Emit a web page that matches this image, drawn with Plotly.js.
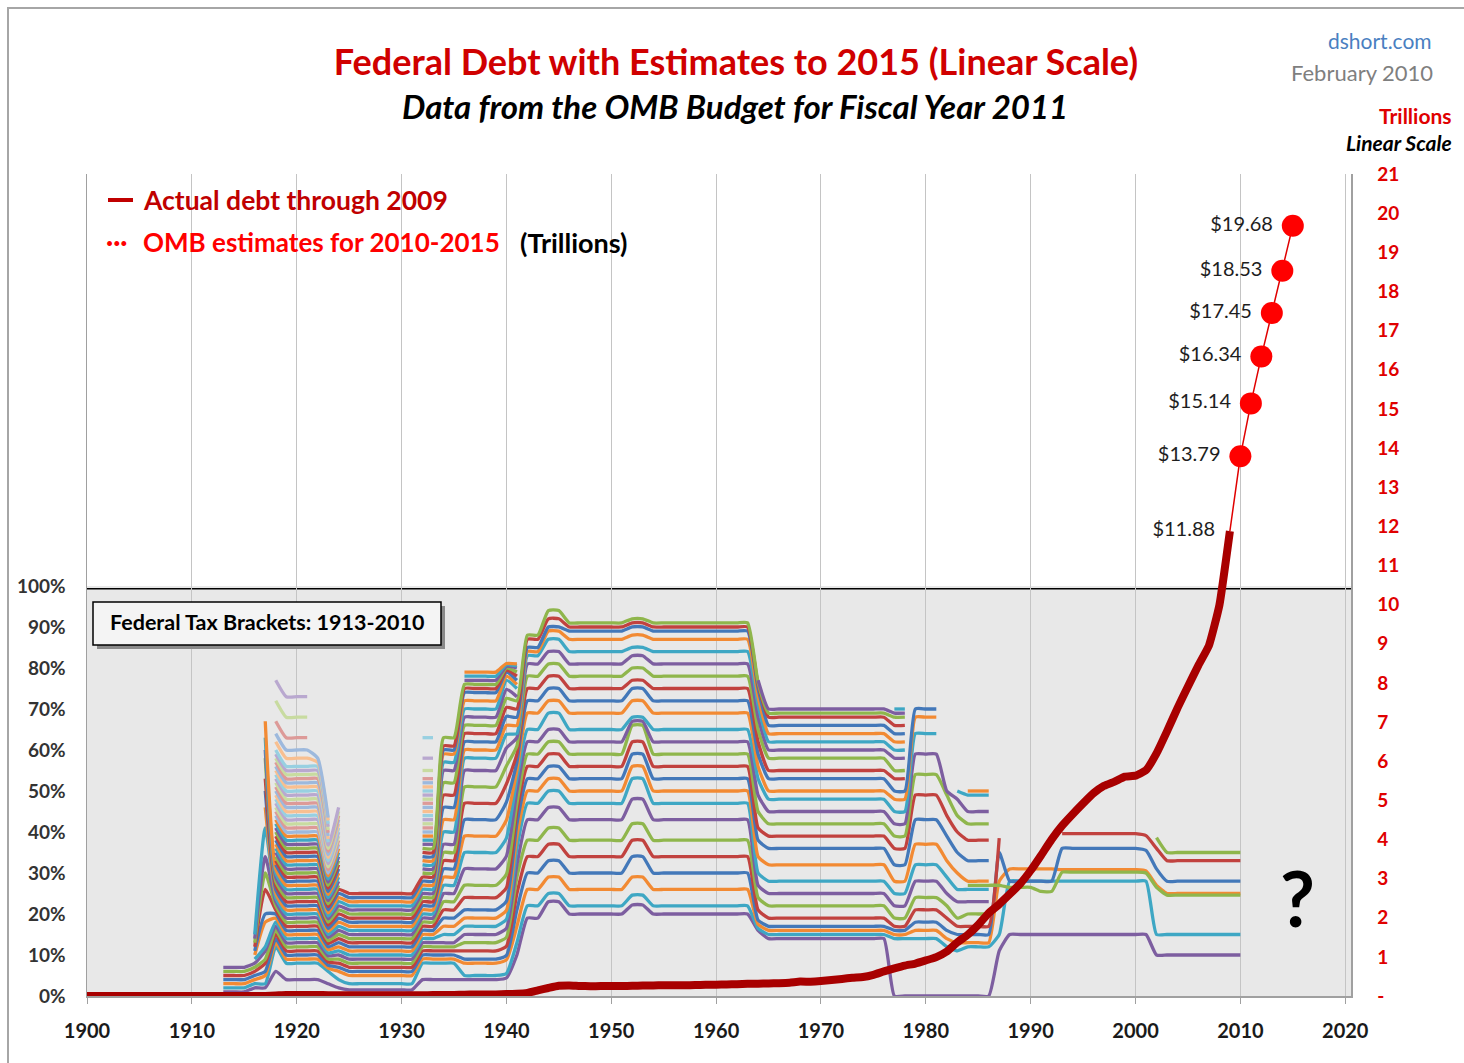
<!DOCTYPE html>
<html>
<head>
<meta charset="utf-8">
<script src="https://cdn.plot.ly/plotly-3.0.1.min.js"></script>
<style>
  html, body { margin: 0; padding: 0; background: #ffffff; }
  #chart { width: 1464px; height: 1063px; }
</style>
</head>
<body>
<div id="chart"></div>
<script>
// ---------------- DATA ----------------
// Gross federal debt, trillions of dollars, 1900-2009 (actual)
const debtStartYear = 1900;
const debtTrillions = [
  0.00126, 0.00122, 0.00118, 0.00116, 0.00114, 0.00113, 0.00114, 0.00115, 0.00118, 0.00115,
  0.00115, 0.00115, 0.00119, 0.00119, 0.00119, 0.00119, 0.00123, 0.00298, 0.01246, 0.02548,
  0.02430, 0.02398, 0.02296, 0.02235, 0.02125, 0.02052, 0.01964, 0.01851, 0.01760, 0.01693,
  0.01619, 0.01680, 0.01949, 0.02254, 0.02705, 0.02870, 0.03378, 0.03642, 0.03716, 0.04044,
  0.0507, 0.0575, 0.0792, 0.1426, 0.2041, 0.2601, 0.2710, 0.2571, 0.2520, 0.2526,
  0.2569, 0.2553, 0.2591, 0.2660, 0.2708, 0.2744, 0.2727, 0.2723, 0.2797, 0.2875,
  0.2905, 0.2926, 0.3029, 0.3103, 0.3161, 0.3223, 0.3285, 0.3404, 0.3687, 0.3658,
  0.3809, 0.4082, 0.4359, 0.4663, 0.4839, 0.5419, 0.6290, 0.7064, 0.7766, 0.8295,
  0.9090, 0.9948, 1.1373, 1.3717, 1.5646, 1.8174, 2.1205, 2.3460, 2.6011, 2.8678,
  3.2063, 3.5982, 4.0018, 4.3510, 4.6433, 4.9206, 5.1815, 5.3692, 5.4782, 5.6055,
  5.6287, 5.7699, 6.1984, 6.7600, 7.3547, 7.9053, 8.4514, 8.9507, 9.9861, 11.8759
];

// OMB estimates (2009 actual end point, then 2010-2015 estimates), trillions
const estimateYears = [2009, 2010, 2011, 2012, 2013, 2014, 2015];
const estimateTrillions = [11.88, 13.79, 15.14, 16.34, 17.45, 18.53, 19.68];

// Federal income tax bracket rates (%), one list per rate-schedule era
const r1913 = [1, 2, 3, 4, 5, 6, 7];
const r1916 = [2, 3, 4, 5, 6, 7, 8, 9, 10, 11, 12, 13, 14, 15];
const r1917 = [2, 3, 5, 6, 8, 9, 11, 12, 18, 20, 26, 30, 34, 41, 46, 50, 53, 58, 60, 63, 67];
const r1918 = [6, 12, 13, 14, 15, 16, 17, 18, 19, 20, 21, 22, 23, 24, 25, 26, 27, 28, 29, 30,
  31, 32, 33, 34, 35, 36, 37, 38, 39, 40, 41, 42, 43, 44, 45, 46, 47, 48, 49, 50,
  51, 52, 53, 54, 55, 56, 57, 58, 59, 60, 62, 64, 67, 72, 77];
const r1919 = [4, 8, 9, 10, 11, 12, 13, 14, 15, 16, 17, 18, 19, 20, 21, 22, 23, 24, 25, 26,
  27, 28, 29, 30, 31, 32, 33, 34, 35, 36, 37, 38, 39, 40, 41, 42, 43, 44, 45, 46,
  47, 48, 49, 50, 51, 52, 53, 54, 55, 56, 58, 60, 63, 68, 73];
const r1922 = [4, 8, 9, 10, 11, 12, 13, 14, 15, 16, 17, 18, 19, 20, 21, 22, 23, 24, 25, 26,
  27, 28, 29, 30, 31, 32, 33, 34, 35, 36, 37, 38, 39, 40, 41, 42, 43, 44, 45, 46,
  47, 48, 49, 50, 51, 52, 53, 54, 55, 56, 57, 58];
const r1923 = [3, 6, 6.8, 7.5, 8.3, 9, 9.8, 10.5, 11.3, 12, 12.8, 13.5, 14.3, 15, 15.8, 16.5,
  17.3, 18, 18.8, 19.5, 20.3, 21, 21.8, 22.5, 23.3, 24, 24.8, 25.5, 26.3, 27, 27.8, 28.5,
  29.3, 30, 30.8, 31.5, 32.3, 33, 33.8, 34.5, 35.3, 36, 36.8, 37.5, 38.3, 39, 39.8, 40.5,
  41.3, 42, 42.8, 43.5];
const r1924 = [2, 4, 6, 7, 8, 9, 10, 11, 12, 13, 14, 15, 16, 17, 18, 19, 20, 21, 22, 23,
  24, 25, 26, 27, 28, 29, 30, 31, 32, 33, 34, 35, 36, 37, 38, 39, 40, 41, 42, 43, 44, 45, 46];
const r1925 = [1.5, 3, 5, 6, 7, 8, 9, 10, 11, 12, 13, 14, 15, 16, 17, 18, 19, 20, 21, 22, 23, 24, 25];
const r1932 = [4, 8, 9, 10, 11, 12, 13, 14, 15, 16, 17, 18, 19, 20, 21, 22, 23, 24, 25, 26,
  27, 28, 29, 30, 31, 32, 33, 34, 35, 36, 37, 38, 39, 40, 41, 42, 43, 44, 45, 46,
  47, 48, 49, 50, 51, 52, 53, 55, 58, 63];
const r1934 = [4, 8, 9, 10, 11, 12, 13, 15, 17, 19, 21, 23, 25, 27, 29, 31, 33, 35, 37, 40,
  43, 46, 49, 52, 55, 57, 59, 60, 61, 63];
const r1936 = [4, 5, 8, 9, 11, 13, 15, 17, 19, 21, 24, 27, 31, 35, 39, 43, 47, 51, 55, 58,
  60, 62, 64, 66, 68, 70, 72, 74, 75, 76, 77, 78, 79];
const r1940 = [4.4, 5.5, 8.8, 9.9, 12.1, 14.3, 16.5, 18.7, 20.9, 23.1, 26.4, 29.7, 34.1, 38.5,
  42.9, 47.3, 51.7, 56.1, 60.5, 63.8, 66, 68.2, 70.4, 72.6, 74.8, 77, 78, 79, 79.5, 80, 80.4, 80.8, 81.1];
const r1941 = [10, 13, 17, 21, 25, 29, 32, 36, 39, 42, 45, 47, 50, 53, 55, 57, 59, 61, 63, 64,
  66, 68, 70, 72, 73, 75, 76, 77, 78, 79, 80, 80.5, 81];
const r1942 = [19, 22, 26, 30, 34, 38, 43, 47, 50, 53, 56, 59, 62, 65, 69, 72, 75, 78, 81, 83, 84, 85, 87, 88];
const r1944 = [23, 25, 29, 33, 37, 41, 46, 50, 53, 56, 59, 62, 65, 69, 72, 75, 78, 81, 84, 87, 89, 90, 92, 94];
const r1946 = [20, 22, 26, 30, 34, 38, 43, 47, 50, 53, 56, 59, 62, 65, 69, 72, 75, 78, 81, 84, 87, 89, 90, 91];
const r1952 = [22.2, 24.6, 29, 34, 38, 42, 48, 53, 56, 59, 62, 66, 67, 68, 72, 75, 77, 80, 83, 85, 88, 90, 91, 92];
const r1954 = [20, 22, 26, 30, 34, 38, 43, 47, 50, 53, 56, 59, 62, 65, 69, 72, 75, 78, 81, 84, 87, 89, 90, 91];
const r1964 = [16, 16.5, 17.5, 18.5, 21, 24, 27, 30, 34, 38, 41, 45, 49, 53, 56, 59, 62, 65, 68, 71, 73, 75, 76, 76.5, 77];
const r1965 = [14, 15, 16, 17, 19, 22, 25, 28, 32, 36, 39, 42, 45, 48, 50, 53, 55, 58, 60, 62, 64, 66, 68, 69, 70];
const r1977 = [0, 14, 15, 16, 17, 19, 22, 25, 28, 32, 36, 39, 42, 45, 48, 50, 53, 55, 58, 60, 62, 64, 66, 68, 69, 70];
const r1979 = [0, 14, 16, 18, 21, 24, 28, 32, 37, 43, 49, 54, 59, 64, 68, 70];
const r1982 = [0, 12, 14, 16, 19, 22, 25, 29, 33, 39, 44, 49, 50];
const r1983 = [0, 11, 13, 15, 17, 19, 23, 26, 30, 35, 40, 44, 48, 50];
const r1984 = [0, 12, 13, 15, 17, 20, 23, 26, 28, 33, 38, 42, 45, 49, 50, null, null, 27];
const r1987 = [11, 15, 28, 35, 38.5, null, null, null, null, null, null, null, null, null, null, null, null, 27];
const r1988 = [15, 28, 31, 28, null, null, null, null, null, null, null, null, null, null, null, null, null, 26.5];
const r1991 = [15, 28, 31, 28, null, null, null, null, null, null, null, null, null, null, null, null, null, 25.5];
const r1993 = [15, 28, 30.8, 36, 39.6, null, null, null, null, null, null, null, null, null, null, null, null, 30.2];
const r2001 = [15, 28, 30.5, 35.5, 39.1, null, null, null, null, null, null, null, null, null, null, null, null, 30];
const r2002 = [10, 15, 27, 31, 36, null, null, null, null, null, null, 38.6, null, null, null, null, null, 26.5];
const r2003 = [10, 15, 25, 28, 33, null, null, null, null, null, null, 35, null, null, null, null, null, 24.6];

const eraStartYears = [1913, 1916, 1917, 1918, 1919, 1922, 1923, 1924, 1925, 1932, 1934, 1936,
  1940, 1941, 1942, 1944, 1946, 1952, 1954, 1964, 1965, 1977, 1979, 1982, 1983, 1984,
  1987, 1988, 1991, 1993, 2001, 2002, 2003];
const eraRates = [r1913, r1916, r1917, r1918, r1919, r1922, r1923, r1924, r1925, r1932, r1934, r1936,
  r1940, r1941, r1942, r1944, r1946, r1952, r1954, r1964, r1965, r1977, r1979, r1982, r1983, r1984,
  r1987, r1988, r1991, r1993, r2001, r2002, r2003];
const taxLastYear = 2010;

const pctTickLabels = ['0%', '10%', '20%', '30%', '40%', '50%', '60%', '70%', '80%', '90%', '100%'];
const trillionTickLabels = ['-', '1', '2', '3', '4', '5', '6', '7', '8', '9', '10',
  '11', '12', '13', '14', '15', '16', '17', '18', '19', '20', '21'];

// ---------------- STYLE ----------------
const baseColors = ['#7d5ea0', '#3ea7c4', '#f28a33', '#4378b9', '#c1423f', '#8fb64c'];
const lightColors = ['#b9a8cf', '#98d0e1', '#f8bf90', '#9db9dd', '#dd9a98', '#c8dba0'];
const FONT = 'Lato, "Open Sans", "Noto Sans", sans-serif';

// plot-area pixel frame used for paper placement of texts
const PL = 87, PR = 1351, PT = 174, PB = 996;
const px = v => (v - PL) / (PR - PL);
const py = v => (PB - v) / (PB - PT);

// ---------------- TRACES ----------------
const traces = [];

// tax bracket series
const taxYears = [];
for (let y = eraStartYears[0]; y <= taxLastYear; y++) taxYears.push(y);
function ratesFor(year) {
  let idx = 0;
  for (let i = 0; i < eraStartYears.length; i++) if (eraStartYears[i] <= year) idx = i;
  return eraRates[idx];
}
const maxBrackets = Math.max(...eraRates.map(a => a.length));
for (let b = 0; b < maxBrackets; b++) {
  const ys = taxYears.map(yr => {
    const r = ratesFor(yr);
    return (b < r.length && r[b] !== null && r[b] !== undefined) ? r[b] : null;
  });
  if (ys.every(v => v === null)) continue;
  traces.push({
    x: taxYears, y: ys, yaxis: 'y', type: 'scatter', mode: 'lines',
    line: { color: (b >= 33 ? lightColors : baseColors)[b % 6], width: 3.3, shape: 'spline', smoothing: 0.5 },
    connectgaps: false, hoverinfo: 'skip', showlegend: false
  });
}

// actual debt
const debtYears = debtTrillions.map((_, i) => debtStartYear + i);
traces.push({
  x: debtYears, y: debtTrillions, yaxis: 'y2', type: 'scatter', mode: 'lines',
  line: { color: '#a80000', width: 8, shape: 'spline', smoothing: 0.4 },
  hoverinfo: 'skip', showlegend: false
});

// OMB estimates
traces.push({
  x: estimateYears, y: estimateTrillions, yaxis: 'y2', type: 'scatter', mode: 'lines+markers+text',
  line: { color: '#e00000', width: 1.5 },
  marker: { size: 22, color: estimateYears.map((_, i) => i === 0 ? 'rgba(0,0,0,0)' : '#ff0000') },
  text: estimateTrillions.map((v, i) => '$' + v.toFixed(2) + (i === 0 ? '' : '\u00a0')),
  textposition: 'middle left',
  textfont: { family: FONT, size: 20, color: '#1e1e1e' },
  cliponaxis: false, hoverinfo: 'skip', showlegend: false
});

// ---------------- LAYOUT ----------------
const layout = {
  width: 1464, height: 1063,
  margin: { l: PL, r: 1464 - PR, t: PT, b: 1063 - PB, pad: 0 },
  paper_bgcolor: '#ffffff', plot_bgcolor: '#ffffff',
  showlegend: false,
  font: { family: FONT },
  title: {
    text: 'Federal Debt with Estimates to 2015 (Linear Scale)',
    font: { family: FONT, size: 36, color: '#d00000', weight: 'bold' },
    xref: 'container', yref: 'container', x: 736 / 1464, y: 1 - 62 / 1063,
    xanchor: 'center', yanchor: 'middle'
  },
  xaxis: {
    range: [1900, 2020.55], tick0: 1900, dtick: 10,
    showgrid: true, gridcolor: '#c4c4c4', gridwidth: 1,
    zeroline: false, showline: true, linecolor: '#a0a0a0', linewidth: 1.5,
    ticks: 'outside', ticklen: 6, tickcolor: '#a0a0a0',
    tickfont: { family: FONT, size: 20, color: '#1a1a1a', weight: 'bold' },
    ticklabelstandoff: 10
  },
  yaxis: {
    range: [0, 200.48], side: 'left',
    tickvals: pctTickLabels.map((_, i) => i * 10), ticktext: pctTickLabels,
    showgrid: false, zeroline: false, showline: true, linecolor: '#a0a0a0', linewidth: 1.5,
    ticks: '', ticklabelstandoff: 16,
    tickfont: { family: FONT, size: 19, color: '#333333', weight: 'bold' }
  },
  yaxis2: {
    range: [0, 21], side: 'right', overlaying: 'y', anchor: 'x',
    tickvals: trillionTickLabels.map((_, i) => i), ticktext: trillionTickLabels,
    showgrid: false, zeroline: false, showline: true, linecolor: '#a0a0a0', linewidth: 1.5,
    ticks: '', ticklabelstandoff: 21,
    tickfont: { family: FONT, size: 19, color: '#e00000', weight: 'bold' }
  },
  shapes: [
    // gray tax-bracket band 0-100%
    { type: 'rect', xref: 'paper', yref: 'y', x0: 0, x1: 1, y0: 0, y1: 100,
      fillcolor: '#e8e8e8', line: { width: 0 }, layer: 'below' },
    { type: 'line', xref: 'paper', yref: 'y', x0: 0, x1: 1, y0: 99.3, y1: 99.3,
      line: { color: '#000000', width: 1.5 }, layer: 'below' },
    // box for the tax bracket label (shadow + box)
    { type: 'rect', xref: 'paper', yref: 'paper', x0: px(97), x1: px(445), y0: py(649), y1: py(606),
      fillcolor: '#8a8a8a', line: { width: 0 } },
    { type: 'rect', xref: 'paper', yref: 'paper', x0: px(93), x1: px(441), y0: py(645), y1: py(602),
      fillcolor: '#f4f4f4', line: { color: '#000000', width: 1.5 } },
    // legend dash for actual debt
    { type: 'line', xref: 'paper', yref: 'paper', x0: px(108), x1: px(133), y0: py(200), y1: py(200),
      line: { color: '#c00000', width: 4 } },
    // outer frame
    { type: 'rect', xref: 'paper', yref: 'paper', x0: px(8), x1: px(1480), y0: py(1080), y1: py(8),
      line: { color: '#a6a6a6', width: 2 }, fillcolor: 'rgba(0,0,0,0)' }
  ],
  annotations: [
    { text: '<b><i>Data from the OMB Budget for Fiscal Year 2011</i></b>', xref: 'paper', yref: 'paper',
      x: px(735), y: py(106), xanchor: 'center', yanchor: 'middle', showarrow: false,
      font: { family: FONT, size: 33, color: '#000000' } },
    { text: 'dshort.com', xref: 'paper', yref: 'paper', x: px(1434), y: py(41),
      xanchor: 'right', yanchor: 'middle', showarrow: false,
      font: { family: FONT, size: 21, color: '#4a7fc1' } },
    { text: 'February 2010', xref: 'paper', yref: 'paper', x: px(1435), y: py(72),
      xanchor: 'right', yanchor: 'middle', showarrow: false,
      font: { family: FONT, size: 22, color: '#7f7f7f' } },
    { text: '<b>Trillions</b>', xref: 'paper', yref: 'paper', x: px(1454), y: py(116),
      xanchor: 'right', yanchor: 'middle', showarrow: false,
      font: { family: FONT, size: 21, color: '#e00000' } },
    { text: '<b><i>Linear Scale</i></b>', xref: 'paper', yref: 'paper', x: px(1454), y: py(142),
      xanchor: 'right', yanchor: 'middle', showarrow: false,
      font: { family: FONT, size: 21, color: '#000000' } },
    { text: '<b>Actual debt through 2009</b>', xref: 'paper', yref: 'paper', x: px(141), y: py(200),
      xanchor: 'left', yanchor: 'middle', showarrow: false,
      font: { family: FONT, size: 26.5, color: '#c00000' } },
    { text: '<b>···</b>', xref: 'paper', yref: 'paper', x: px(104), y: py(242),
      xanchor: 'left', yanchor: 'middle', showarrow: false,
      font: { family: FONT, size: 26, color: '#ff0000' } },
    { text: '<b>OMB estimates for 2010-2015</b>', xref: 'paper', yref: 'paper', x: px(141), y: py(242),
      xanchor: 'left', yanchor: 'middle', showarrow: false,
      font: { family: FONT, size: 26, color: '#ff0000' } },
    { text: '<b>(Trillions)</b>', xref: 'paper', yref: 'paper', x: px(518), y: py(242),
      xanchor: 'left', yanchor: 'middle', showarrow: false,
      font: { family: FONT, size: 27, color: '#000000' } },
    { text: '<b>Federal Tax Brackets: 1913-2010</b>', xref: 'paper', yref: 'paper', x: px(267), y: py(622),
      xanchor: 'center', yanchor: 'middle', showarrow: false,
      font: { family: FONT, size: 21.5, color: '#000000' } },
    { text: '<b>?</b>', xref: 'paper', yref: 'paper', x: px(1297), y: py(897),
      xanchor: 'center', yanchor: 'middle', showarrow: false,
      font: { family: FONT, size: 76, color: '#000000' } }
  ]
};

Plotly.newPlot('chart', traces, layout, { staticPlot: true, displayModeBar: false });
</script>
</body>
</html>
